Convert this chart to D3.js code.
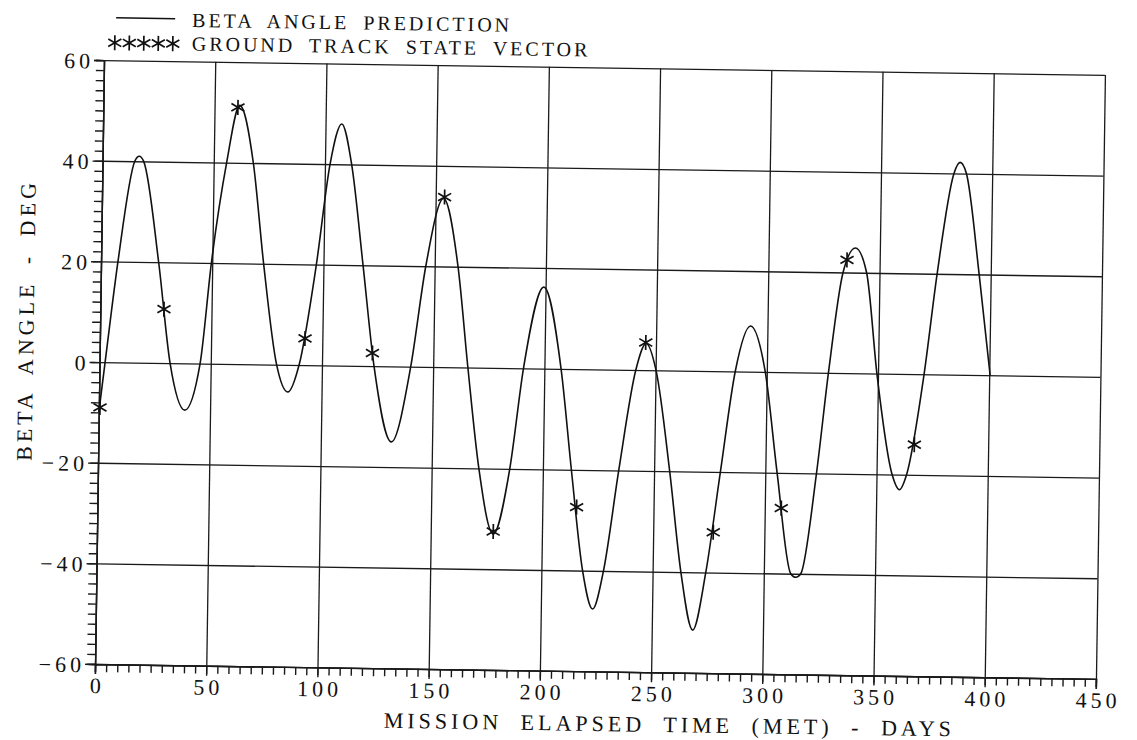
<!DOCTYPE html>
<html>
<head>
<meta charset="utf-8">
<script src="https://cdn.jsdelivr.net/npm/d3@7"></script>
<style>
    body { margin: 0; background: #fff; }
    text { font-family: 'Liberation Serif', 'DejaVu Serif', serif; fill: #111; }
</style>
</head>
<body>
<svg id="drawing_chart"></svg>
<script>
// beta angle prediction (days, deg)
const betaDays = [0, 2.5, 7.6, 14.5, 16.5, 18.5, 25.9, 31.7, 38.6, 45.2, 49.6, 55.8, 61.3, 67.8,
    73.1, 79.6, 84.8, 89.7, 96.8, 102.3, 107.3, 112, 117.8, 123.4, 131.7, 139.9, 146, 153.5,
    160.5, 165.6, 171.2, 178.1, 185.1, 190.6, 199.2, 207.5, 212.8, 218.5, 223.3, 227.9, 234.1,
    241.1, 245.6, 250.2, 257, 262.7, 268.4, 273.9, 279.8, 285.8, 292.4, 299.3, 305.3, 312.1,
    314.4, 316.6, 323, 327.7, 333.6, 339, 344.2, 349.5, 357, 360.4, 363.5, 370.7, 375.9, 382.8,
    385.5, 388.4, 394.8, 400.4];
const betaValues = [-10, 0, 20, 40, 41, 40, 20, 0, -9.3, 0, 20, 40, 51.4, 40,
    20, 0, -5.4, 0, 20, 40, 48, 40, 20, 0, -15, 0, 20, 33.5,
    20, 0, -20, -33, -20, 0, 16.2, 0, -20, -40, -47.6, -40, -20,
    0, 5.3, 0, -20, -40, -51.5, -40, -20, 0, 9.1, 0, -20, -40,
    -40.7, -40, -20, 0, 20, 24.9, 20, 0, -20, -23, -20, 0, 20, 40,
    42.2, 40, 20, 0];

// ground track state vector points
const trackDays = [0.5, 28.6, 60.5, 92.2, 122.6, 154, 178.1, 215.4, 245.4, 277, 307.4, 335.3, 366.8];
const trackValues = [-9, 10.7, 51, 5.3, 2.6, 33.8, -32.5, -27.4, 5.5, -32, -27, 22.5, -14];

const xTicks = [0, 50, 100, 150, 200, 250, 300, 350, 400, 450];
const yTicks = [-60, -40, -20, 0, 20, 40, 60];
const legendLabels = ['BETA ANGLE PREDICTION', 'GROUND TRACK STATE VECTOR'];
const xTitle = 'MISSION ELAPSED TIME (MET) - DAYS';
const yTitle = 'BETA ANGLE - DEG';

class BetaChart {
    constructor( config ) {
        this.config = config;
        this.beta = betaDays.map( (d, i) => ({ day: d, value: betaValues[i] }) );
        this.track = trackDays.map( (d, i) => ({ day: d, value: trackValues[i] }) );
        this.init();
    }

    init() {
        let self = this;
        self.svg = d3.select( self.config.parent )
            .attr('width', self.config.width)
            .attr('height', self.config.height);

        // the scanned page sits slightly crooked
        self.root = self.svg.append('g')
            .attr('transform', 'rotate(0.85, 600, 369.5)');

        self.chart = self.root.append('g')
            .attr('transform', `translate(${self.config.margin.left}, ${self.config.margin.top})`);

        self.inner_width = self.config.width - self.config.margin.left - self.config.margin.right;
        self.inner_height = self.config.height - self.config.margin.top - self.config.margin.bottom;

        self.xscale = d3.scaleLinear()
            .domain([0, 450])
            .range([0, self.inner_width]);

        self.yscale = d3.scaleLinear()
            .domain([-60, 60])
            .range([self.inner_height, 0]);
    }

    render() {
        let self = this;
        const w = self.inner_width, h = self.inner_height;

        // grid
        self.chart.append('g')
            .attr('transform', `translate(0, ${h})`)
            .call( d3.axisBottom(self.xscale).tickValues(xTicks).tickSize(-h).tickFormat('') )
            .call( g => g.select('.domain').remove() );
        self.chart.append('g')
            .call( d3.axisLeft(self.yscale).tickValues(yTicks).tickSize(-w).tickFormat('') )
            .call( g => g.select('.domain').remove() );
        self.chart.selectAll('.tick line')
            .attr('stroke', '#1a1a1a')
            .attr('stroke-width', 1.3);

        // minor ticks
        const xminor = self.chart.append('g')
            .attr('transform', `translate(0, ${h})`)
            .call( d3.axisBottom(self.xscale).tickValues(d3.range(0, 451, 5)).tickSize(8).tickFormat('') );
        const yminor = self.chart.append('g')
            .call( d3.axisLeft(self.yscale).tickValues(d3.range(-60, 61, 2)).tickSize(8).tickFormat('') );

        // labelled axes
        const xaxis = self.chart.append('g')
            .attr('transform', `translate(0, ${h})`)
            .call( d3.axisBottom(self.xscale).tickValues(xTicks).tickSize(10) );
        xaxis.selectAll('text')
            .attr('y', 29)
            .attr('dy', null)
            .attr('dx', 2);

        const yaxis = self.chart.append('g')
            .call( d3.axisLeft(self.yscale).tickValues(yTicks).tickSize(10) );
        yaxis.selectAll('text')
            .attr('x', -10)
            .attr('dy', '0.36em');

        [xminor, yminor, xaxis, yaxis].forEach( g => {
            g.selectAll('line, path').attr('stroke', '#1a1a1a').attr('stroke-width', 1.4);
            g.selectAll('text')
                .attr('font-family', "'Liberation Serif', serif")
                .attr('font-size', 22)
                .attr('letter-spacing', 4)
                .attr('fill', '#111');
        });

        // beta angle line
        const line = d3.line()
            .x( d => self.xscale(d.day) )
            .y( d => self.yscale(d.value) )
            .curve( d3.curveMonotoneX );

        self.chart.append('path')
            .datum(self.beta)
            .attr('d', line)
            .attr('fill', 'none')
            .attr('stroke', '#111')
            .attr('stroke-width', 1.6);

        // state vector stars
        const star = d3.symbol().type(d3.symbolAsterisk).size(160);
        self.chart.selectAll('.star')
            .data(self.track)
            .enter()
            .append('path')
            .attr('class', 'star')
            .attr('d', star)
            .attr('transform', d => `translate(${self.xscale(d.day)}, ${self.yscale(d.value)})`)
            .attr('fill', 'none')
            .attr('stroke', '#111')
            .attr('stroke-width', 1.7);

        // legend
        const legend = self.root.append('g');
        legend.append('line')
            .attr('x1', 111).attr('x2', 170)
            .attr('y1', 25).attr('y2', 25)
            .attr('stroke', '#111')
            .attr('stroke-width', 1.5);
        legend.selectAll('.lstar')
            .data(d3.range(5))
            .enter()
            .append('path')
            .attr('class', 'lstar')
            .attr('d', star)
            .attr('transform', i => `translate(${110 + i * 14.5}, 50)`)
            .attr('fill', 'none')
            .attr('stroke', '#111')
            .attr('stroke-width', 1.7);
        legend.selectAll('.ltext')
            .data(legendLabels)
            .enter()
            .append('text')
            .attr('class', 'ltext')
            .attr('x', 187)
            .attr('y', (d, i) => 33 + i * 23.6)
            .attr('font-size', 20)
            .attr('letter-spacing', 3)
            .attr('word-spacing', 6)
            .text(d => d);

        // axis titles
        self.root.append('text')
            .attr('x', 389)
            .attr('y', 731)
            .attr('font-size', 22)
            .attr('letter-spacing', 4)
            .attr('word-spacing', 9)
            .text(xTitle);

        self.root.append('text')
            .attr('transform', 'translate(33, 328.5) rotate(-90)')
            .attr('text-anchor', 'middle')
            .attr('font-size', 22)
            .attr('letter-spacing', 4)
            .attr('word-spacing', 7)
            .text(yTitle);
    }
}

const config = {
    parent: '#drawing_chart',
    width: 1137,
    height: 740,
    margin: {top: 67.5, right: 36.5, bottom: 68.5, left: 99.5}
};

const beta_chart = new BetaChart( config );
beta_chart.render();
</script>
</body>
</html>
